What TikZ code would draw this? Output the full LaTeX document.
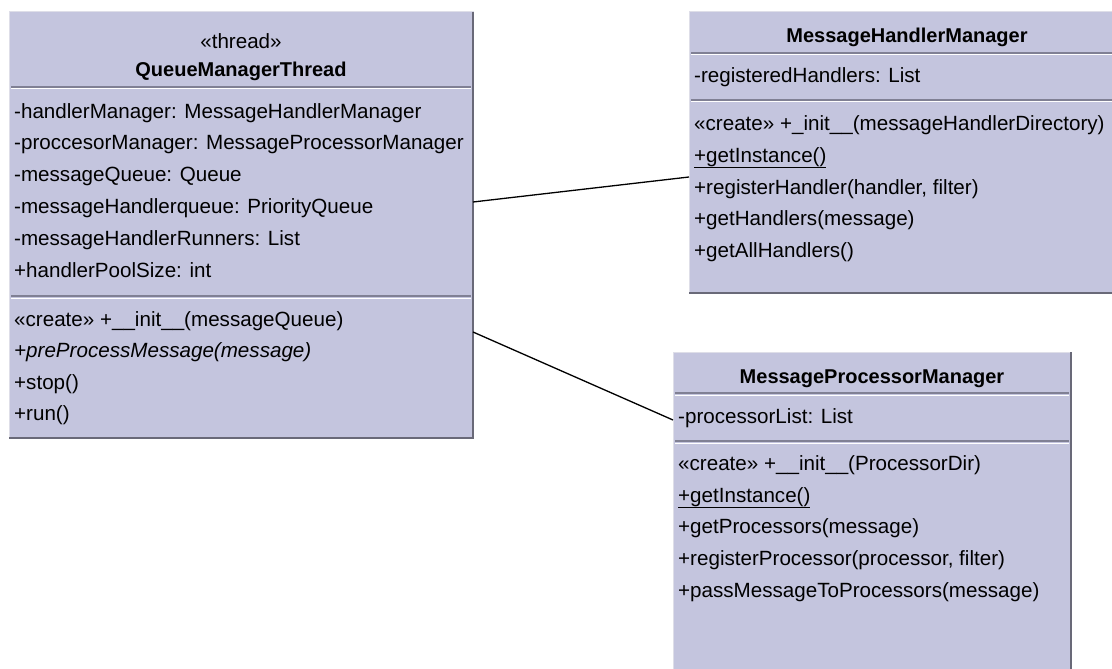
\documentclass[tikz,border=0pt]{standalone}
\usepackage{fontspec}
\setmainfont{Liberation Sans}
\usepackage{tikz}

\definecolor{umlfill}{RGB}{196,197,222}
\definecolor{umllight}{RGB}{222,222,232}
\definecolor{umldark}{RGB}{105,105,120}
\definecolor{umlsep}{RGB}{128,128,148}

\begin{document}
\begin{tikzpicture}[x=1pt,y=-1pt]
  \tikzset{ClassStyle/.style = {
    shape         = rectangle,
    draw          = umllight,
    fill          = umlfill,
    line width    = 1pt,
    anchor        = north west,
    inner sep     = 0pt,
    outer sep     = 0pt
    }
  }
  \tikzset{ShadowStyle/.style = {
    draw          = umldark,
    line width    = 2pt
    }
  }
  \tikzset{SepStyle/.style = {
    draw          = umlsep,
    line width    = 1.3pt
    }
  }
  \tikzset{SepLightStyle/.style = {
    draw          = white,
    line width    = 1pt
    }
  }
  \tikzset{MemberStyle/.style = {
    anchor        = base west,
    inner sep     = 0pt,
    text          = black,
    font          = \fontsize{20.6}{24}\selectfont
    }
  }
  \tikzset{TitleStyle/.style = {
    MemberStyle,
    anchor        = base
    }
  }
  \tikzset{AssocStyle/.style = {
    draw          = black,
    line width    = 1.3pt
    }
  }

  \useasboundingbox (0,0) rectangle (1112,669);
  \clip (0,0) rectangle (1112,669);

  % class boxes
	\node[ClassStyle, minimum width=464pt, minimum height=426pt](QMT) at (9,12) {};
	\node[ClassStyle, minimum width=440pt, minimum height=281pt](MHM) at (689,12) {};
	\node[ClassStyle, minimum width=398pt, minimum height=340pt](MPM) at (673,352) {};
	\draw[ShadowStyle] (QMT.north east) -- (QMT.south east) -- (QMT.south west);
	\draw[ShadowStyle] (MHM.north east) -- (MHM.south east) -- (MHM.south west);
	\draw[ShadowStyle] (MPM.north east) -- (MPM.south east) -- (MPM.south west);

  % compartments
	\foreach \y in {87,296} {
	  \draw[SepStyle] ([xshift=2pt]QMT.west |- 0,\y) -- ([xshift=-2pt]QMT.east |- 0,\y);
	  \draw[SepLightStyle] ([xshift=2pt]QMT.west |- 0,\y+2) -- ([xshift=-2pt]QMT.east |- 0,\y+2);
	}
	\foreach \y in {53,100} {
	  \draw[SepStyle] ([xshift=2pt]MHM.west |- 0,\y) -- ([xshift=-2pt]MHM.east |- 0,\y);
	  \draw[SepLightStyle] ([xshift=2pt]MHM.west |- 0,\y+2) -- ([xshift=-2pt]MHM.east |- 0,\y+2);
	}
	\foreach \y in {393,441} {
	  \draw[SepStyle] ([xshift=2pt]MPM.west |- 0,\y) -- ([xshift=-2pt]MPM.east |- 0,\y);
	  \draw[SepLightStyle] ([xshift=2pt]MPM.west |- 0,\y+2) -- ([xshift=-2pt]MPM.east |- 0,\y+2);
	}

  % QueueManagerThread
	\node[TitleStyle](QMTs) at (241,49) {«thread»};
	\node[TitleStyle, font=\fontsize{20}{24}\selectfont\bfseries](QMTn) at (241,77) {QueueManagerThread};
	\node[MemberStyle](QMTa1) at (14,118) {-handlerManager: MessageHandlerManager};
	\node[MemberStyle](QMTa2) at (14,149) {-proccesorManager: MessageProcessorManager};
	\node[MemberStyle](QMTa3) at (14,181) {-messageQueue: Queue};
	\node[MemberStyle](QMTa4) at (14,213) {-messageHandlerqueue: PriorityQueue};
	\node[MemberStyle](QMTa5) at (14,245) {-messageHandlerRunners: List};
	\node[MemberStyle](QMTa6) at (14,277) {+handlerPoolSize: int};
	\node[MemberStyle](QMTm1) at (14,326) {«create» +\_\_init\_\_(messageQueue)};
	\node[MemberStyle, font=\fontsize{20.6}{24}\selectfont\itshape](QMTm2) at (14,357) {+preProcessMessage(message)};
	\node[MemberStyle](QMTm3) at (14,389) {+stop()};
	\node[MemberStyle](QMTm4) at (14,420) {+run()};

  % MessageHandlerManager
	\node[TitleStyle, font=\fontsize{20}{24}\selectfont\bfseries](MHMn) at (907,43) {MessageHandlerManager};
	\node[MemberStyle](MHMa1) at (694,83) {-registeredHandlers: List};
	\node[MemberStyle](MHMm1) at (694,130) {«create» +\_init\_\_(messageHandlerDirectory)};
	\node[MemberStyle](MHMm2) at (694,162) {\underline{+getInstance()}};
	\node[MemberStyle](MHMm3) at (694,194) {+registerHandler(handler, filter)};
	\node[MemberStyle](MHMm4) at (694,225) {+getHandlers(message)};
	\node[MemberStyle](MHMm5) at (694,257) {+getAllHandlers()};

  % MessageProcessorManager
	\node[TitleStyle, font=\fontsize{20}{24}\selectfont\bfseries](MPMn) at (872,383) {MessageProcessorManager};
	\node[MemberStyle](MPMa1) at (678,423) {-processorList: List};
	\node[MemberStyle](MPMm1) at (678,470) {«create» +\_\_init\_\_(ProcessorDir)};
	\node[MemberStyle](MPMm2) at (678,502) {\underline{+getInstance()}};
	\node[MemberStyle](MPMm3) at (678,533) {+getProcessors(message)};
	\node[MemberStyle](MPMm4) at (678,565) {+registerProcessor(processor, filter)};
	\node[MemberStyle](MPMm5) at (678,597) {+passMessageToProcessors(message)};

  % associations
	\draw[AssocStyle] (QMT.east |- 0,202) -- (MHM.west |- 0,177);
	\draw[AssocStyle] (QMT.east |- 0,332) -- (MPM.west |- 0,420);

\end{tikzpicture}
\end{document}
